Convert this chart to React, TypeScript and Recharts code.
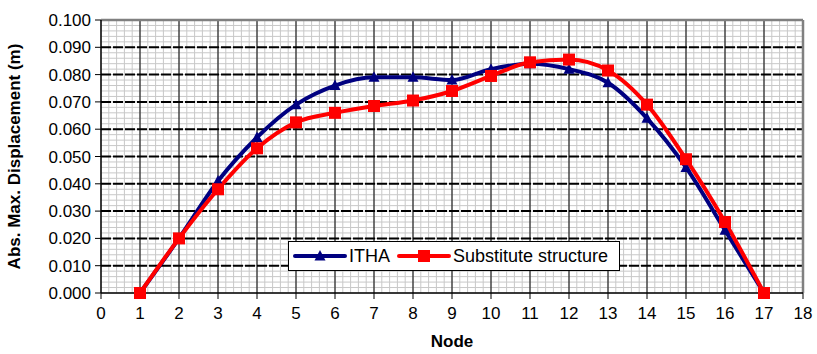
import { LineChart, Line, XAxis, YAxis, ReferenceLine, Label } from 'recharts'

const nodes = [1, 2, 3, 4, 5, 6, 7, 8, 9, 10, 11, 12, 13, 14, 15, 16, 17]
const itha = [0, 0.020, 0.041, 0.057, 0.069, 0.076, 0.079, 0.079, 0.078, 0.082, 0.084, 0.082, 0.077, 0.064, 0.046, 0.023, 0]
const substitute = [0, 0.020, 0.038, 0.053, 0.0625, 0.066, 0.0685, 0.0705, 0.074, 0.0795, 0.0845, 0.0855, 0.0815, 0.069, 0.049, 0.026, 0]

const xTicks = [0, 1, 2, 3, 4, 5, 6, 7, 8, 9, 10, 11, 12, 13, 14, 15, 16, 17, 18]
const yTicks = [0, 0.01, 0.02, 0.03, 0.04, 0.05, 0.06, 0.07, 0.08, 0.09, 0.1]

// minor grid: 5 steps between majors on both axes
const xMinor = Array.from({ length: 91 }, (_, i) => +(i * 0.2).toFixed(1))
const yMinor = Array.from({ length: 51 }, (_, i) => +(i * 0.002).toFixed(3))

const data = nodes.map((n, i) => ({ node: n, itha: itha[i], sub: substitute[i] }))

const FONT = '"Liberation Sans", Arial, sans-serif'
const NAVY = '#000080'
const RED = '#FF0000'

function Triangle({ cx, cy }: { cx?: number; cy?: number }) {
  if (cx == null || cy == null) return null
  return <path d={`M${cx},${cy - 6} L${cx + 5.5},${cy + 4.5} L${cx - 5.5},${cy + 4.5} Z`} fill={NAVY} />
}

function Square({ cx, cy }: { cx?: number; cy?: number }) {
  if (cx == null || cy == null) return null
  return <rect x={cx - 6} y={cy - 6} width={12} height={12} fill={RED} />
}

function LegendBox() {
  return (
    <div
      style={{
        position: 'absolute', left: 288, top: 241, boxSizing: 'border-box',
        display: 'flex', alignItems: 'center', background: '#fff', border: '1px solid #000',
        height: 30, padding: '0 11px 0 4px', fontFamily: FONT, fontSize: 18, color: '#000',
      }}
    >
      <svg width={54} height={14}>
        <line x1={2} y1={7} x2={52} y2={7} stroke={NAVY} strokeWidth={4} strokeLinecap="round" />
        <path d="M27,1 L32.5,11.5 L21.5,11.5 Z" fill={NAVY} />
      </svg>
      <span style={{ marginLeft: 2, marginRight: 7 }}>ITHA</span>
      <svg width={54} height={14}>
        <line x1={2} y1={7} x2={52} y2={7} stroke={RED} strokeWidth={4} strokeLinecap="round" />
        <rect x={21} y={1} width={12} height={12} fill={RED} />
      </svg>
      <span style={{ marginLeft: 2 }}>Substitute structure</span>
    </div>
  )
}

export default function App() {
  return (
    <div style={{ position: 'fixed', left: 0, top: 0, width: 817, height: 354, background: '#fff' }}>
      <LineChart width={817} height={354} data={data} margin={{ top: 20, right: 14, bottom: 0, left: 0 }}>
        <XAxis
          dataKey="node"
          type="number"
          domain={[0, 18]}
          ticks={xTicks}
          interval={0}
          tickLine={{ stroke: '#000' }}
          axisLine={{ stroke: '#000', strokeWidth: 1.5 }}
          tickSize={6}
          tick={{ fill: '#000', fontSize: 17, fontFamily: FONT }}
          tickMargin={8}
          height={61}
        >
          <Label value="Node" position="insideBottom" offset={7} style={{ fontFamily: FONT, fontSize: 17, fontWeight: 'bold', fill: '#000' }} />
        </XAxis>
        <YAxis
          type="number"
          domain={[0, 0.1]}
          ticks={yTicks}
          interval={0}
          width={101}
          tickFormatter={(v: number) => v.toFixed(3)}
          tickLine={{ stroke: '#000' }}
          axisLine={{ stroke: '#000', strokeWidth: 1.5 }}
          tickSize={6}
          tick={{ fill: '#000', fontSize: 17, fontFamily: FONT }}
          tickMargin={4}
        >
          <Label
            value="Abs. Max. Displacement (m)"
            angle={-90}
            position="insideLeft"
            offset={14}
            style={{ fontFamily: FONT, fontSize: 17, fontWeight: 'bold', fill: '#000', textAnchor: 'middle' }}
          />
        </YAxis>

        {xMinor.map((x) => (
          <ReferenceLine key={'xm' + x} x={x} stroke="#c8c8c8" strokeWidth={1} />
        ))}
        {yMinor.map((y) => (
          <ReferenceLine key={'ym' + y} y={y} stroke="#c8c8c8" strokeWidth={1} />
        ))}
        {xTicks.slice(1, -1).map((x) => (
          <ReferenceLine key={'xM' + x} x={x} stroke="#000" strokeWidth={1} />
        ))}
        {yTicks.slice(1, -1).map((y) => (
          <ReferenceLine key={'yM' + y} y={y} stroke="#000" strokeWidth={2} strokeDasharray="10 2" />
        ))}
        <ReferenceLine y={0.1} stroke="#808080" strokeWidth={2.5} />
        <ReferenceLine x={18} stroke="#808080" strokeWidth={2.5} />

        <Line
          dataKey="itha"
          name="ITHA"
          type="monotone"
          stroke={NAVY}
          strokeWidth={4}
          dot={<Triangle />}
          activeDot={false}
          isAnimationActive={false}
        />
        <Line
          dataKey="sub"
          name="Substitute structure"
          type="monotone"
          stroke={RED}
          strokeWidth={4}
          dot={<Square />}
          activeDot={false}
          isAnimationActive={false}
        />
      </LineChart>
      <LegendBox />
    </div>
  )
}
